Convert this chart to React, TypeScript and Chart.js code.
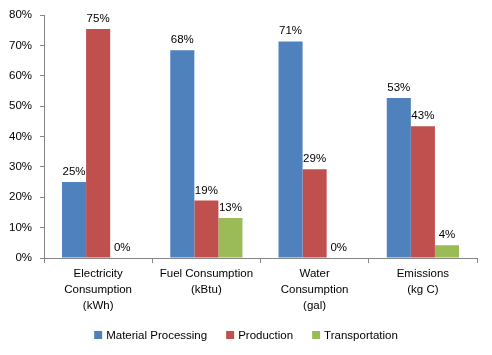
import React, { useEffect, useRef } from "react";
import { Chart, registerables } from "chart.js";

Chart.register(...registerables);

const categories: string[][] = [
  ["Electricity", "Consumption", "(kWh)"],
  ["Fuel Consumption", "(kBtu)"],
  ["Water", "Consumption", "(gal)"],
  ["Emissions", "(kg C)"],
];
const materialProcessing = [25.0, 68.4, 71.3, 52.7];
const production = [75.4, 18.9, 29.2, 43.4];
const transportation = [0, 13.2, 0, 4.2];
const seriesNames = ["Material Processing", "Production", "Transportation"];
const seriesColors = ["#4F81BD", "#C0504D", "#9BBB59"];
const yTicks = [0, 10, 20, 30, 40, 50, 60, 70, 80];

const FONT_FAMILY = "'Liberation Sans', Arial, sans-serif";
const FONT_SIZE = 11.5;

const labelPlugin = {
  id: "barLabels",
  afterDatasetsDraw(chart: any) {
    const ctx = chart.ctx;
    ctx.save();
    ctx.font = `${FONT_SIZE}px ${FONT_FAMILY}`;
    ctx.fillStyle = "#000";
    ctx.textAlign = "center";
    ctx.textBaseline = "alphabetic";
    chart.data.datasets.forEach((ds: any, i: number) => {
      const meta = chart.getDatasetMeta(i);
      meta.data.forEach((bar: any, j: number) => {
        const v = ds.data[j];
        ctx.fillText(Math.round(v) + "%", bar.x, bar.y - 7);
      });
    });
    ctx.restore();
  },
};

const legendPlugin = {
  id: "customLegend",
  afterDraw(chart: any) {
    const ctx = chart.ctx;
    ctx.save();
    ctx.font = `${FONT_SIZE}px ${FONT_FAMILY}`;
    const box = 8;
    const gapBox = 4;
    const gapItem = 19;
    const widths = seriesNames.map((n) => ctx.measureText(n).width);
    const total =
      widths.reduce((a, b) => a + b, 0) +
      seriesNames.length * (box + gapBox) +
      gapItem * (seriesNames.length - 1);
    let x = (chart.width - total) / 2;
    const cy = 335;
    seriesNames.forEach((n, i) => {
      ctx.fillStyle = seriesColors[i];
      ctx.fillRect(x, cy - box / 2, box, box);
      x += box + gapBox;
      ctx.fillStyle = "#000";
      ctx.textAlign = "left";
      ctx.textBaseline = "middle";
      ctx.fillText(n, x, cy + 0.5);
      x += widths[i] + gapItem;
    });
    ctx.restore();
  },
};

export default function App() {
  const ref = useRef<HTMLCanvasElement>(null);
  useEffect(() => {
    if (!ref.current) return;
    const chart = new Chart(ref.current, {
      type: "bar",
      data: {
        labels: categories,
        datasets: [materialProcessing, production, transportation].map((d, i) => ({
          label: seriesNames[i],
          data: d,
          backgroundColor: seriesColors[i],
          borderWidth: 0,
          categoryPercentage: 0.667,
          barPercentage: 1,
        })),
      },
      options: {
        animation: false,
        responsive: false,
        maintainAspectRatio: false,
        layout: { padding: { left: 0, right: 15, top: 15, bottom: 40 } },
        plugins: {
          legend: { display: false },
          tooltip: { enabled: false },
        },
        scales: {
          x: {
            grid: {
              offset: true,
              drawOnChartArea: false,
              drawTicks: true,
              tickLength: 5,
              color: "#868686",
            },
            border: { display: true, color: "#868686" },
            ticks: {
              color: "#000",
              font: { family: FONT_FAMILY, size: FONT_SIZE, lineHeight: 1.4 },
              padding: 3,
              maxRotation: 0,
              autoSkip: false,
            },
            afterFit: (s: any) => {
              s.height = 355 - 258 - 40;
            },
          },
          y: {
            min: 0,
            max: 80,
            afterBuildTicks: (s: any) => {
              s.ticks = yTicks.map((v) => ({ value: v }));
            },
            grid: {
              drawOnChartArea: false,
              drawTicks: true,
              tickLength: 4,
              color: "#868686",
            },
            border: { display: true, color: "#868686" },
            ticks: {
              color: "#000",
              font: { family: FONT_FAMILY, size: FONT_SIZE },
              padding: 8,
              callback: (v: any) => v + "%",
            },
            afterFit: (s: any) => {
              s.width = 44;
            },
          },
        },
      },
      plugins: [labelPlugin, legendPlugin],
    });
    return () => chart.destroy();
  }, []);
  return (
    <div style={{ position: "fixed", left: 0, top: 0, width: 492, height: 355, background: "#fff" }}>
      <canvas ref={ref} width={492} height={355} style={{ width: 492, height: 355 }} />
    </div>
  );
}
